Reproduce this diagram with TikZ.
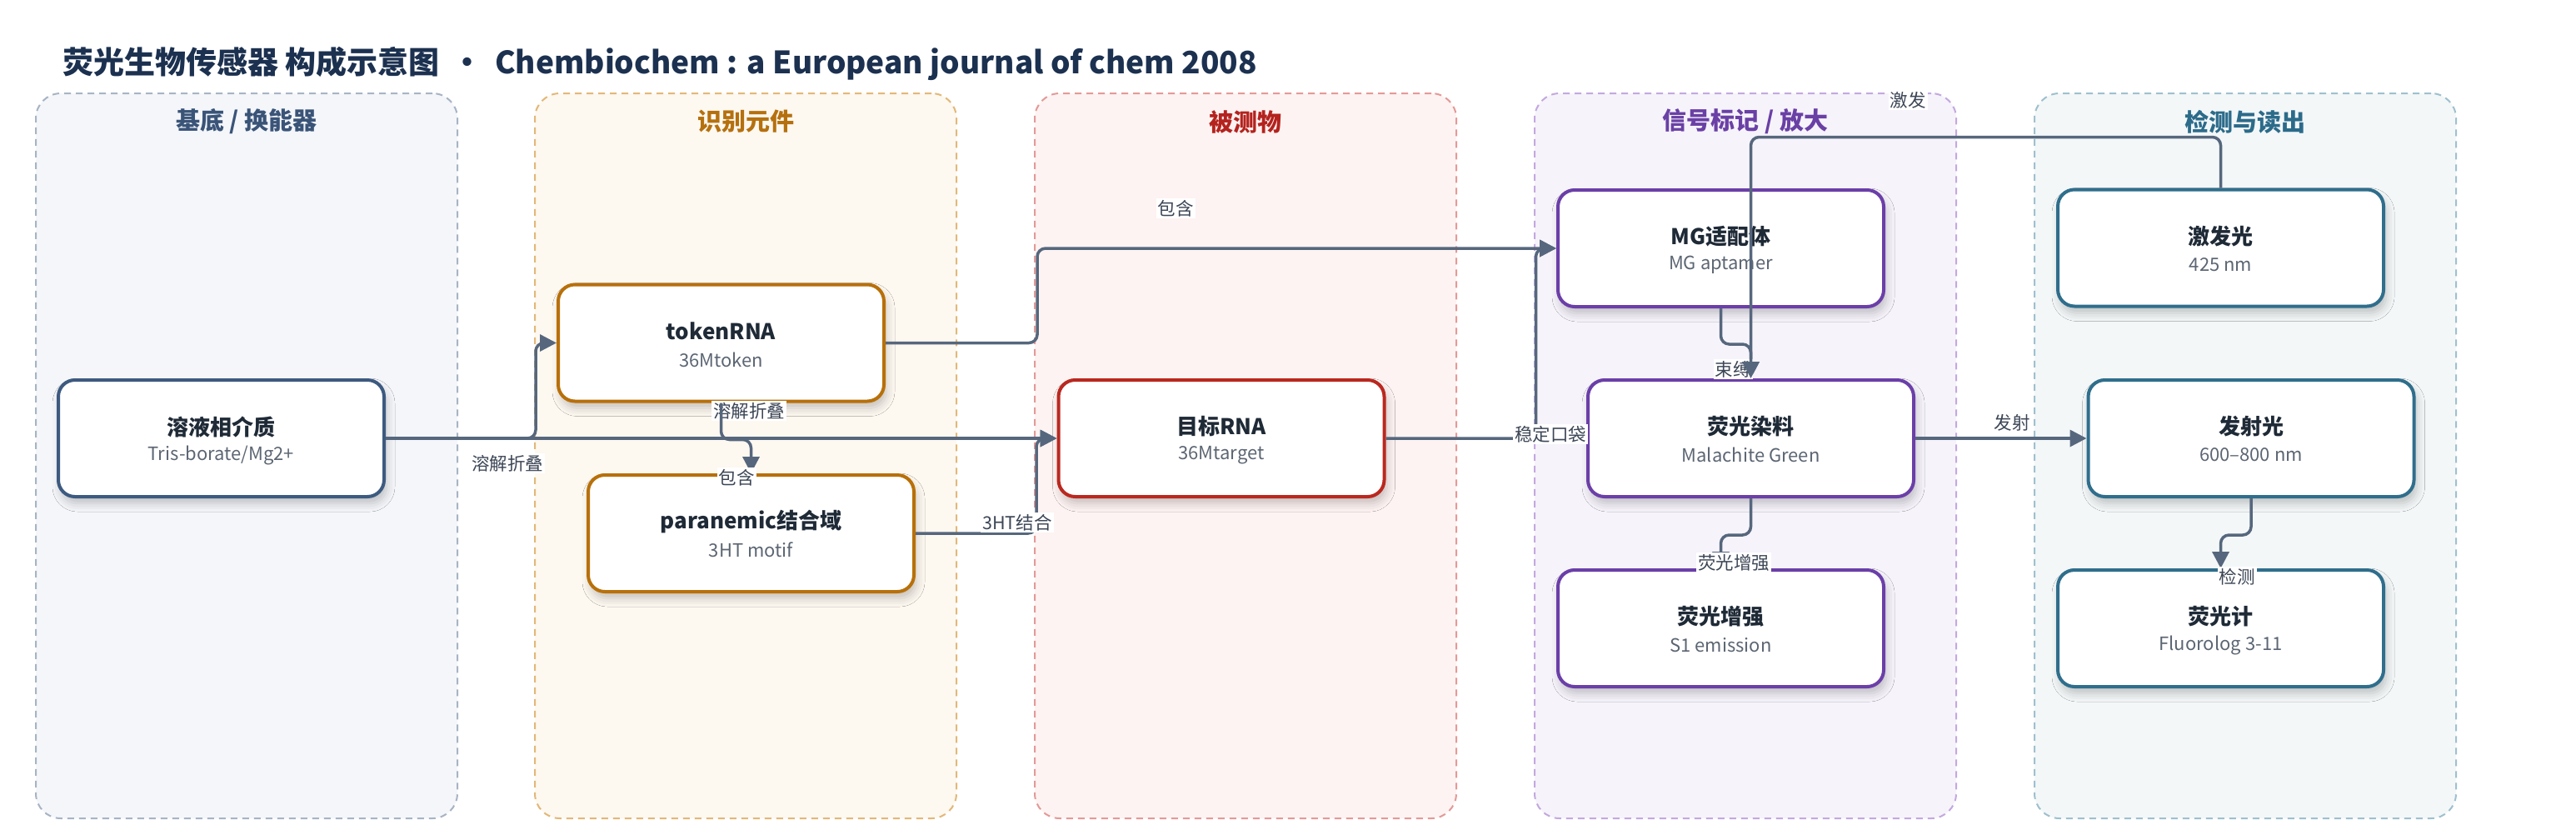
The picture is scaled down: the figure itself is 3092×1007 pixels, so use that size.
\documentclass[tikz,border=0pt]{standalone}
\usepackage{fontspec}
\setmainfont{Noto Sans CJK SC}
\usetikzlibrary{arrows.meta,shadows.blur}

\definecolor{edgec}{HTML}{56677D}
\definecolor{titc}{HTML}{1F2A37}
\definecolor{subc}{HTML}{5C6673}
\definecolor{labc}{HTML}{3C4656}
\definecolor{mainc}{HTML}{1C3150}
% lanes
\definecolor{fA}{HTML}{F4F6FA}\definecolor{bA}{HTML}{A8B4C4}\definecolor{tA}{HTML}{3A5478}\definecolor{nA}{HTML}{3D5A80}
\definecolor{fB}{HTML}{FDF8F0}\definecolor{bB}{HTML}{E2B878}\definecolor{tB}{HTML}{B5700E}\definecolor{nB}{HTML}{B8700A}
\definecolor{fC}{HTML}{FDF3F2}\definecolor{bC}{HTML}{E39A98}\definecolor{tC}{HTML}{B4231E}\definecolor{nC}{HTML}{BA281F}
\definecolor{fD}{HTML}{F6F3FB}\definecolor{bD}{HTML}{C3A9DF}\definecolor{tD}{HTML}{6A40A5}\definecolor{nD}{HTML}{6B3FA8}
\definecolor{fE}{HTML}{F3F7F8}\definecolor{bE}{HTML}{9FC0CE}\definecolor{tE}{HTML}{2C6B8A}\definecolor{nE}{HTML}{2F6E8C}

\newcommand{\blk}[6]{%
  \node[box, draw=#4] (#1) at (#2,#3) {};
  \node[ttl] (#1-t) at (#2,#3-14) {#5};
  \node[subt] (#1-s) at (#2,#3+20) {#6};
}
\newcommand{\lanebox}[6]{%
  \node[lanestyle, draw=#4, fill=#5, minimum width=253pt, minimum height=435pt] (#1) at (#2,547) {};
  \node[lanetitle, text=#6] (#1-t) at (#2,146) {#3};
}

\begin{document}
\begin{tikzpicture}[x=0.5pt,y=-0.5pt,
  lanestyle/.style={rectangle, dash pattern=on 4pt off 3pt, line width=1pt, rounded corners=15pt, inner sep=0pt},
  lanetitle/.style={font=\bfseries\fontsize{14.5pt}{17pt}\selectfont},
  box/.style={rectangle, rounded corners=10pt, fill=white, line width=2pt, minimum width=195.5pt, minimum height=70pt, inner sep=0pt,
     blur shadow={shadow xshift=1.5pt, shadow yshift=-4pt, shadow blur radius=5pt, shadow opacity=22}},
  ttl/.style={font=\bfseries\fontsize{13pt}{15pt}\selectfont, text=titc, inner sep=0pt},
  subt/.style={font=\fontsize{11pt}{13pt}\selectfont, text=subc, inner sep=0pt},
  elab/.style={fill=white, inner sep=1pt, font=\fontsize{10.75pt}{12pt}\selectfont, text=labc},
  edge/.style={draw=edgec, line width=1.75pt, rounded corners=5pt, -{Triangle[length=10pt,width=10pt]}}
]
\useasboundingbox (0,0) rectangle (3092,1007);
\fill[white] (0,0) rectangle (3092,1007);

\node[anchor=west, font=\bfseries\fontsize{18.5pt}{22pt}\selectfont, text=mainc, inner sep=0pt] (title) at (75,76)
  {荧光生物传感器 构成示意图 \,•\, Chembiochem : a European journal of chem 2008};

\lanebox{laneA}{296}{基底 / 换能器}{bA}{fA}{tA}
\lanebox{laneB}{895}{识别元件}{bB}{fB}{tB}
\lanebox{laneC}{1495}{被测物}{bC}{fC}{tC}
\lanebox{laneD}{2095}{信号标记 / 放大}{bD}{fD}{tD}
\lanebox{laneE}{2695}{检测与读出}{bE}{fE}{tE}

\blk{solv}{265.5}{526}{nA}{溶液相介质}{Tris-borate/Mg2+}
\blk{token}{865.5}{411.5}{nB}{tokenRNA}{36Mtoken}
\blk{para}{901.5}{640}{nB}{paranemic结合域}{3HT motif}
\blk{target}{1466}{526}{nC}{目标RNA}{36Mtarget}
\blk{mg}{2065.5}{298}{nD}{MG适配体}{MG aptamer}
\blk{dye}{2101.5}{526}{nD}{荧光染料}{Malachite Green}
\blk{enh}{2065.5}{754}{nD}{荧光增强}{S1 emission}
\blk{exc}{2665.5}{297.5}{nE}{激发光}{425 nm}
\blk{emi}{2702}{526}{nE}{发射光}{600–800 nm}
\blk{flu}{2665.5}{754}{nE}{荧光计}{Fluorolog 3-11}

% edges with labels
\draw[edge] (solv.east) -- ++(180,0) |- (token.west);
\node[elab] (la) at (609,556) {溶解折叠};
\draw[edge] (solv.east) -- (target.west);
\node[elab] (lb) at (899,493) {溶解折叠};
\draw[edge] (token.south) -- ++(0,44) -| (para.north);
\node[elab] (lc) at (884,573) {包含};
\draw[edge] (token.east) -- ++(182,0) |- (mg.west);
\node[elab] (ld) at (1411,250) {包含};
\draw[edge] (para.east) -- ++(145,0) |- (target.west);
\node[elab] (le) at (1221,627) {3HT结合};
\draw[edge] (target.east) -- ++(180,0) |- (mg.west);
\node[elab] (lf) at (1861,521) {稳定口袋};
\draw[edge] (mg.south) -- ++(0,43) -| (dye.north);
\node[elab] (lg) at (2080,443) {束缚};
\draw[edge] (exc.north) -- ++(0,-61) -| (dye.north);
\node[elab] (lh) at (2290,120) {激发};
\draw[edge] (dye.east) -- (emi.west);
\node[elab] (li) at (2415,507) {发射};
\draw[edge] (dye.south) -- ++(0,44) -| (enh.north);
\node[elab] (lj) at (2081,675) {荧光增强};
\draw[edge] (emi.south) -- ++(0,44) -| (flu.north);
\node[elab] (lk) at (2685,692) {检测};
\end{tikzpicture}
\end{document}
